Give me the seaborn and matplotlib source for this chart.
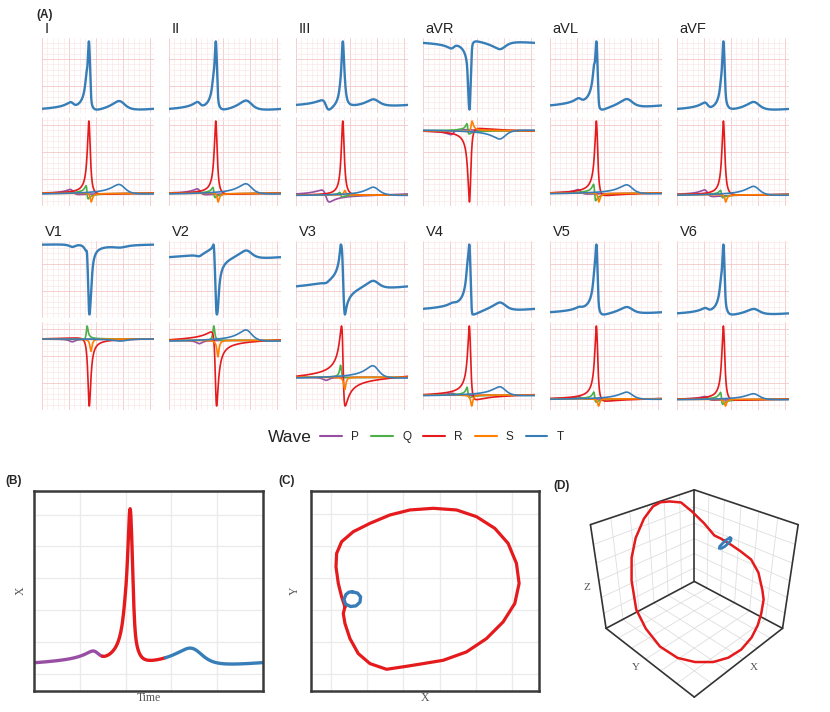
import numpy as np
import pandas as pd
import matplotlib
matplotlib.use("Agg")
import matplotlib.pyplot as plt
from matplotlib.lines import Line2D
import seaborn as sns

# ---------------- data ----------------
LEADS = ["I", "II", "III", "aVR", "aVL", "aVF", "V1", "V2", "V3", "V4", "V5", "V6"]
WAVES = ["P", "Q", "R", "S", "T"]

# shared wave locations (radians over one beat) and sharpness
WAVE_TAU = {"P": 1.70, "Q": 2.52, "R": 2.64, "S": 2.75, "T": 4.43}
WAVE_OMEGA = {"P": 0.11, "Q": 0.03, "R": 0.05, "S": 0.035, "T": 0.23}

# per-lead wave amplitudes (relative) and shape angles
P_AMP = [0.07, 0.08, 0.16, -0.07, 0.06, 0.09, -0.04, -0.05, -0.06, 0.03, 0.03, 0.05]
P_BETA = [1.0, 1.0, 1.74, 1.0, 0.9, 1.1, 0.0, 0.0, 0.0, 0.5, 0.6, 1.0]
Q_AMP = [0.18, 0.14, 0.06, 0.14, 0.22, 0.10, 0.20, 0.22, 0.24, 0.15, 0.14, 0.16]
Q_BETA = [1.4, 1.4, 1.4, 1.2, 1.48, 1.4, -0.4, 0.0, 0.3, 1.0, 1.2, 1.4]
R_AMP = [1.0, 1.0, 1.0, -1.0, 1.0, 1.0, -1.0, -1.13, 1.56, 1.08, 1.05, 1.0]
R_BETA = [0.20, 0.20, 0.10, 0.35, 0.35, 0.15, -0.25, -0.69, 1.285, 0.50, 0.35, 0.22]
S_AMP = [-0.12, -0.12, 0.06, 0.14, -0.12, -0.10, -0.18, -0.25, -0.24, -0.16, -0.10, -0.09]
S_BETA = [-0.3, -0.3, 0.0, -0.5, -0.3, -0.3, 0.0, 0.0, 0.0, 0.0, 0.0, 0.0]
T_AMP = [0.13, 0.14, 0.11, -0.12, 0.12, 0.12, -0.03, 0.17, 0.24, 0.13, 0.10, 0.08]
T_BETA = [0.5, 0.5, 0.4, 0.5, 0.5, 0.5, 0.2, 0.5, 0.5, 0.5, 0.5, 0.5]

# panel B: single beat of the X lead (amplitude, shape) per wave
B_AMP = {"P": 0.06, "Q": 0.06, "R": 1.0, "S": -0.09, "T": 0.11}
B_BETA = {"P": 1.0, "Q": 1.4, "R": 0.15, "S": -0.3, "T": 0.6}
B_SEGMENT_BOUNDS = [0.296, 0.573]  # fraction of beat: P | QRS | T

# panels C and D: vectorcardiogram loops
VCG_X = [1.394, 1.348, 1.394, 1.531, 1.760, 2.081, 2.538, 3.088, 3.546, 4.095,
         4.736, 5.286, 5.744, 6.064, 6.183, 6.110, 5.881, 5.515, 5.011, 4.462,
         3.821, 3.179, 2.630, 2.081, 1.623, 1.302, 1.165, 1.147, 1.211, 1.302, 1.394]
VCG_Y = [3.092, 2.883, 2.569, 2.098, 1.628, 1.314, 1.136, 1.230, 1.314, 1.418,
         1.680, 2.098, 2.621, 3.197, 3.824, 4.452, 5.079, 5.550, 5.916, 6.126,
         6.178, 6.126, 5.969, 5.707, 5.446, 5.132, 4.766, 4.347, 3.824, 3.406, 3.092]
VCG_Z = [0.29, 0.29, 0.31, 0.50, 0.69, 0.86, 0.91, 0.97, 0.96, 0.83,
         0.62, 0.43, 0.20, -0.14, -0.32, -0.52, -0.63, -0.68, -0.72, -0.73,
         -0.73, -0.67, -0.60, -0.55, -0.42, -0.36, -0.10, 0.08, 0.17, 0.24, 0.29]
TLOOP_X = [1.595, 1.742, 1.824, 1.806, 1.696, 1.549, 1.412, 1.366, 1.421, 1.504, 1.595]
TLOOP_Y = [3.563, 3.521, 3.406, 3.238, 3.123, 3.103, 3.176, 3.322, 3.479, 3.552, 3.563]
TLOOP_Z = [0.44, 0.42, 0.35, 0.26, 0.19, 0.16, 0.19, 0.27, 0.35, 0.42, 0.44]

# ---------------- style ----------------
sns.set_theme(style="white")
plt.rcParams["font.family"] = ["Liberation Sans", "DejaVu Sans"]
SERIF = ["Liberation Serif", "DejaVu Serif"]
pal = sns.color_palette("Set1")
WAVE_COLORS = {"P": pal[3], "Q": pal[2], "R": pal[0], "S": pal[4], "T": pal[1]}

W_PX, H_PX = 830, 712
fig = plt.figure(figsize=(W_PX / 100, H_PX / 100), dpi=100)


def rect(x0, y0, x1, y1):
    return [x0 / W_PX, 1 - y1 / H_PX, (x1 - x0) / W_PX, (y1 - y0) / H_PX]


def fx(x):
    return x / W_PX


def fy(y):
    return 1 - y / H_PX


def fmm_wave(t, amp, beta, tau, omega):
    phi = 2 * np.arctan(np.tan((t - tau) / 2) / omega)
    return amp / 2 * (np.cos(phi + beta) + np.cos(beta))


def ecg_grid(ax, w_px, h_px, cell=5.4):
    ax.set_xlim(0, 2 * np.pi)
    ax.margins(y=0.05)
    ylo, yhi = ax.get_ylim()
    dx = 2 * np.pi * cell / w_px
    dy = (yhi - ylo) * cell / h_px
    xs = np.arange(0, 2 * np.pi + 1e-9, dx)
    ys = np.arange(ylo, yhi + 1e-9, dy)
    ax.set_xticks(xs[::5])
    ax.set_xticks(xs, minor=True)
    ax.set_yticks(ys[::5])
    ax.set_yticks(ys, minor=True)
    ax.set_ylim(ylo, yhi)
    ax.grid(which="minor", color="#fbe6e6", lw=0.45)
    ax.grid(which="major", color="#f4c8c8", lw=0.6)
    ax.tick_params(which="both", length=0, labelbottom=False, labelleft=False)
    for s in ax.spines.values():
        s.set_visible(False)
    ax.set_xlabel("")
    ax.set_ylabel("")
    ax.set_facecolor("white")


AMP = {"P": P_AMP, "Q": Q_AMP, "R": R_AMP, "S": S_AMP, "T": T_AMP}
BETA = {"P": P_BETA, "Q": Q_BETA, "R": R_BETA, "S": S_BETA, "T": T_BETA}

t = np.linspace(0, 2 * np.pi, 900)
PANEL_W = 112
for i, lead in enumerate(LEADS):
    row, col = divmod(i, 6)
    x0 = 42 + 126.9 * col
    x1 = x0 + PANEL_W
    if row == 0:
        top_y, bot_y, lab_y = (38, 113), (117, 206), 29
    else:
        top_y, bot_y, lab_y = (241, 318), (322, 410), 232
    comps = {w: fmm_wave(t, AMP[w][i], BETA[w][i], WAVE_TAU[w], WAVE_OMEGA[w]) for w in WAVES}
    total = sum(comps.values())

    ax_top = fig.add_axes(rect(x0, top_y[0], x1, top_y[1]))
    sns.lineplot(x=t, y=total, color=WAVE_COLORS["T"], lw=1.7, ax=ax_top,
                 estimator=None, sort=False)
    ecg_grid(ax_top, PANEL_W, top_y[1] - top_y[0])

    ax_bot = fig.add_axes(rect(x0, bot_y[0], x1, bot_y[1]))
    df = pd.concat([pd.DataFrame({"t": t, "v": comps[w], "Wave": w}) for w in WAVES])
    sns.lineplot(data=df, x="t", y="v", hue="Wave", palette=WAVE_COLORS, lw=1.2,
                 ax=ax_bot, estimator=None, sort=False, legend=False)
    ecg_grid(ax_bot, PANEL_W, bot_y[1] - bot_y[0])

    fig.text(fx(x0 + 3), fy(lab_y), lead, fontsize=10.5, va="center",
             ha="left", color="#222222")

fig.text(fx(36), fy(15), "(A)", fontsize=8.5, fontweight="bold", va="center")

# legend
fig.text(fx(268), fy(437), "Wave", fontsize=12.5, va="center", ha="left",
         color="#222222")
handles = [Line2D([0], [0], color=WAVE_COLORS[w], lw=1.5) for w in WAVES]
fig.legend(handles, WAVES, loc="center", bbox_to_anchor=(fx(442), fy(437)),
           ncol=5, frameon=False, fontsize=8.5, handlelength=1.85, handletextpad=0.8,
           columnspacing=1.0)


def frame_style(ax):
    ax.set_facecolor("white")
    ax.grid(True, color="#ebebeb", lw=1.0)
    ax.tick_params(length=0, labelbottom=False, labelleft=False)
    for s in ax.spines.values():
        s.set_visible(True)
        s.set_color("#3a3a3a")
        s.set_linewidth(1.8)


# ---------------- panel B ----------------
bt = np.linspace(0, 1, 600)
b_sig = sum(fmm_wave(2 * np.pi * bt, B_AMP[w], B_BETA[w], WAVE_TAU[w], WAVE_OMEGA[w])
            for w in WAVES)
axB = fig.add_axes(rect(34, 491, 263, 691))
lo, hi = B_SEGMENT_BOUNDS
segs = [(bt <= lo + 0.002, "P"), ((bt >= lo) & (bt <= hi + 0.002), "R"), (bt >= hi, "T")]
for mask, w in segs:
    sns.lineplot(x=bt[mask], y=b_sig[mask], color=WAVE_COLORS[w], lw=2.4, ax=axB,
                 estimator=None, sort=False)
base, pk = b_sig[0], b_sig.max()
rng = pk - base
axB.set_xlim(-0.005, 1.005)
axB.set_ylim(base - 0.184 * rng, base + 1.115 * rng)
axB.set_xticks([0.2, 0.4, 0.6, 0.8])
axB.set_yticks([base + rng * (-0.0714 + 0.2067 * k) for k in range(6)])
frame_style(axB)
axB.set_xlabel("Time", fontfamily=SERIF, fontsize=8.5, color="#555555", labelpad=1)
axB.set_ylabel("X", fontfamily=SERIF, fontsize=8.5, color="#555555", labelpad=5)
fig.text(fx(5), fy(481), "(B)", fontsize=8.5, fontweight="bold", va="center")

# ---------------- panel C ----------------
axC = fig.add_axes(rect(311, 491, 539, 691))
sns.lineplot(x=VCG_X, y=VCG_Y, color=WAVE_COLORS["R"], lw=2.3, ax=axC,
             estimator=None, sort=False)
sns.lineplot(x=TLOOP_X, y=TLOOP_Y, color=WAVE_COLORS["T"], lw=2.4, ax=axC,
             estimator=None, sort=False)
axC.set_xlim(0.46, 6.73)
axC.set_ylim(0.456, 6.72)
axC.set_xticks([1, 2, 3, 4, 5, 6])
axC.set_yticks([1, 2, 3, 4, 5, 6])
frame_style(axC)
axC.set_xlabel("X", fontfamily=SERIF, fontsize=8.5, color="#555555", labelpad=1)
axC.set_ylabel("Y", fontfamily=SERIF, fontsize=8.5, color="#555555", labelpad=7)
fig.text(fx(278), fy(481), "(C)", fontsize=8.5, fontweight="bold", va="center")

# ---------------- panel D ----------------
XL, YL, ZL = (1.145, 6.185), (1.14, 6.18), (-0.97, 0.97)
axD = fig.add_axes(rect(549, 462, 833, 706), projection="3d")
axD.set_proj_type("persp", focal_length=0.3)
axD.view_init(elev=32, azim=45)
axD.set_box_aspect((1, 1, 0.9), zoom=0.9)
axD.set_xlim(*XL)
axD.set_ylim(*YL)
axD.set_zlim(*ZL)
axD.set_xticks(np.linspace(XL[0], XL[1], 7)[1:-1])
axD.set_yticks(np.linspace(YL[0], YL[1], 7)[1:-1])
axD.set_zticks(np.linspace(ZL[0], ZL[1], 7)[1:-1])
axD.set_xticklabels([])
axD.set_yticklabels([])
axD.set_zticklabels([])
for axis in (axD.xaxis, axD.yaxis, axD.zaxis):
    axis.pane.set_facecolor((1, 1, 1, 0))
    axis.pane.set_edgecolor((1, 1, 1, 0))
    axis.line.set_linewidth(0)
    axis._axinfo["grid"]["color"] = "#dedede"
    axis._axinfo["grid"]["linewidth"] = 0.6
    axis._axinfo["tick"]["inward_factor"] = 0.0
    axis._axinfo["tick"]["outward_factor"] = 0.0
# box outline of the back walls and the floor
x0b, x1b = XL
y0b, y1b = YL
z0b, z1b = ZL
edges = [
    ((x0b, x0b), (y0b, y0b), (z0b, z1b)),
    ((x0b, x0b), (y1b, y1b), (z0b, z1b)),
    ((x1b, x1b), (y0b, y0b), (z0b, z1b)),
    ((x0b, x0b), (y0b, y1b), (z1b, z1b)),
    ((x0b, x1b), (y0b, y0b), (z1b, z1b)),
    ((x0b, x0b), (y0b, y1b), (z0b, z0b)),
    ((x0b, x1b), (y0b, y0b), (z0b, z0b)),
    ((x1b, x1b), (y0b, y1b), (z0b, z0b)),
    ((x0b, x1b), (y1b, y1b), (z0b, z0b)),
]
for ex, ey, ez in edges:
    axD.plot(ex, ey, ez, color="#333333", lw=1.2)
axD.plot(VCG_X, VCG_Y, VCG_Z, color=WAVE_COLORS["R"], lw=1.8)
axD.plot(TLOOP_X, TLOOP_Y, TLOOP_Z, color=WAVE_COLORS["T"], lw=2.0)
axD.set_xlim(*XL)
axD.set_ylim(*YL)
axD.set_zlim(*ZL)
fig.text(fx(754), fy(668), "X", fontfamily=SERIF, fontsize=8, color="#555555",
         ha="center", va="center")
fig.text(fx(636), fy(668), "Y", fontfamily=SERIF, fontsize=8, color="#555555",
         ha="center", va="center")
fig.text(fx(587), fy(588), "Z", fontfamily=SERIF, fontsize=8, color="#555555",
         ha="center", va="center")
fig.text(fx(553), fy(486), "(D)", fontsize=8.5, fontweight="bold", va="center")

fig.savefig("out.png", dpi=100)
